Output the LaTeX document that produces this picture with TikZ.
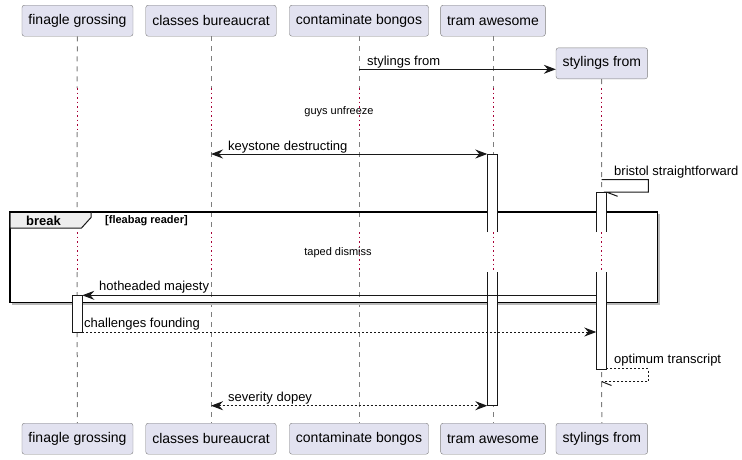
\documentclass[tikz,border=0pt]{standalone}
\usepackage{fontspec}
\setmainfont{Liberation Sans}
\usetikzlibrary{arrows.meta}
\definecolor{partfill}{HTML}{E2E2F0}
\definecolor{partline}{HTML}{7E7E7E}
\definecolor{lifegray}{HTML}{7E7E7E}
\definecolor{delayred}{HTML}{A80036}
\definecolor{tabfill}{HTML}{EEEEEE}
\definecolor{ink}{HTML}{181818}

\begin{document}
\begin{tikzpicture}[x=1pt, y=-1pt, >={Stealth[length=12pt, width=9pt, inset=4pt]},
    part/.style={draw=partline, fill=partfill, rounded corners=2.5, minimum height=31, inner xsep=6.5, font=\fontsize{14}{16}\selectfont},
    life/.style={lifegray, line width=1, dash pattern=on 5pt off 5pt},
    pause/.style={delayred, line width=1, dash pattern=on 1.5pt off 3pt},
    act/.style={ink, fill=white, line width=1},
    msg/.style={ink, line width=1},
    reply/.style={ink, line width=1, dash pattern=on 2pt off 2pt},
    lbl/.style={anchor=base west, inner sep=0, font=\fontsize{13}{15}\selectfont},
    note/.style={inner sep=0, font=\fontsize{11}{13}\selectfont}]
      \useasboundingbox (0,0) rectangle (742,459);
      % participants
      \node[part] (P1) at (77.5,20.7) {finagle grossing};
      \node[part] (P2) at (211,20.7) {classes bureaucrat};
      \node[part] (P3) at (359,20.7) {contaminate bongos};
      \node[part] (P4) at (493,20.7) {tram awesome};
      \node[part] (P5) at (601.8,63.3) {stylings from};
      \node[part] (Q1) at (77.5,438.7) {finagle grossing};
      \node[part] (Q2) at (211,438.7) {classes bureaucrat};
      \node[part] (Q3) at (359,438.7) {contaminate bongos};
      \node[part] (Q4) at (493,438.7) {tram awesome};
      \node[part] (Q5) at (601.8,438.7) {stylings from};
      % lifelines
      \draw[life] (P1) -- (77,88) (77,132) -- (77,232) (77,272) -- (Q1);
      \draw[life] (P2) -- (211,88) (211,132) -- (211,232) (211,272) -- (Q2);
      \draw[life] (P3) -- (359,88) (359,132) -- (359,232) (359,272) -- (Q3);
      \draw[life] (P4) -- (493,88) (493,132) -- (493,232) (493,272) -- (Q4);
      \draw[life] (P5) -- (601.5,88) (601.5,132) -- (601.5,232) (601.5,272) -- (Q5);
      \foreach \x in {77,211,359,493,601.5}
        \draw[pause] (\x,88) -- (\x,132) (\x,232) -- (\x,272);
      \node[note] (D1) at (339,112) {guys unfreeze};
      \node[note] (D2) at (338,253) {taped dismiss};
      % break frame
      \draw[gray!55, line width=1.5] (12,304) -- (659,304) -- (659,214);
      \draw[black, line width=1.5] (10,212) rectangle (657.5,302.5);
      \filldraw[fill=tabfill, draw=ink, line width=1] (10,212) -- (91,212) -- (91,217.5) -- (81.5,228) -- (10,228) -- cycle;
      \draw[black, line width=1.5] (10,212) -- (91,212);
      \node[inner sep=0, font=\bfseries\fontsize{13}{15}\selectfont] (B1) at (43.5,221) {break};
      \node[anchor=west, inner sep=0, font=\bfseries\fontsize{11}{13}\selectfont] (B2) at (105,221) {[fleabag reader]};
      % activations
      \filldraw[act] (487.3,232) -- (487.3,154) -- (497.3,154) -- (497.3,232);
      \filldraw[act] (487.3,272) -- (487.3,405.7) -- (497.3,405.7) -- (497.3,272);
      \filldraw[act] (596.3,232) -- (596.3,192) -- (606.3,192) -- (606.3,232);
      \filldraw[act] (596.3,272) -- (596.3,369) -- (606.3,369) -- (606.3,272);
      \filldraw[act] (72.3,295.3) rectangle (82.3,332);
      % message ends
      \coordinate (m1a) at (359,69.3);
      \coordinate (m1b) at (P5.west |- m1a);
      \coordinate (m2a) at (211,154);
      \coordinate (m2b) at (487.3,154);
      \coordinate (m3a) at (601.5,179.5);
      \coordinate (m3b) at (606.3,192);
      \coordinate (m4a) at (596.3,295.3);
      \coordinate (m4b) at (82.3,295.3);
      \coordinate (m5a) at (82.3,332);
      \coordinate (m5b) at (596.3,332);
      \coordinate (m6a) at (606.3,368.5);
      \coordinate (m6b) at (601.5,381.5);
      \coordinate (m7a) at (211,405.7);
      \coordinate (m7b) at (487.3,405.7);
      % messages
      \draw[msg, ->] (m1a) -- (m1b);
      \draw[msg, <->] (m2a) -- (m2b);
      \draw[msg] (m3a) -- (648.3,179.5) -- (648.3,192) -- (m3b) -- ++(11.3,4.3);
      \draw[msg, ->] (m4a) -- (m4b);
      \draw[reply, ->] (m5a) -- (m5b);
      \draw[reply] (m6a) -- (648.3,368.5) -- (648.3,381.5) -- (m6b);
      \draw[msg] (m6b) -- ++(10,4);
      \draw[reply, <->] (m7a) -- (m7b);
      % labels
      \node[lbl] (t1) at (367,65) {stylings from};
      \node[lbl] (t2) at (228,150) {keystone destructing};
      \node[lbl] (t3) at (614,175) {bristol straightforward};
      \node[lbl] (t4) at (99,290.5) {hotheaded majesty};
      \node[lbl] (t5) at (84,327.5) {challenges founding};
      \node[lbl] (t6) at (614,363) {optimum transcript};
      \node[lbl] (t7) at (228,401) {severity dopey};
    \end{tikzpicture}
\end{document}
